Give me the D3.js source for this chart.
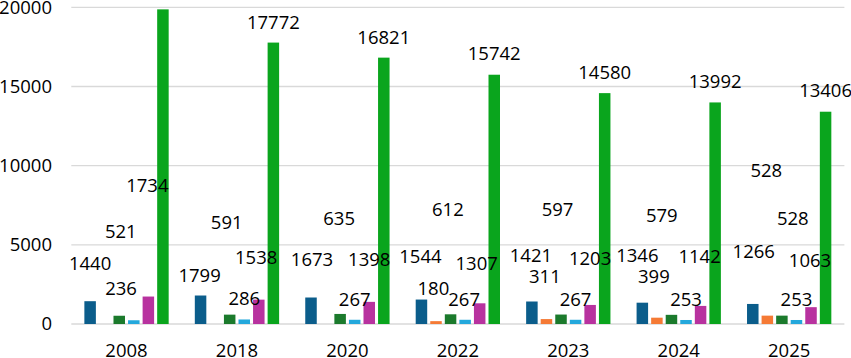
<!DOCTYPE html>
<html>
<head>
<meta charset="utf-8">
<script src="https://cdn.jsdelivr.net/npm/d3@7"></script>
<style>
  html, body { margin: 0; padding: 0; background: #fff; }
  svg { display: block; }
  text { font-family: "Open Sans", sans-serif; fill: #000; }
</style>
</head>
<body>
<svg id="chart" width="851" height="358"></svg>
<script>
// ---- data ----
const categories = ["2008", "2018", "2020", "2022", "2023", "2024", "2025"];
const seriesBlue      = [1440, 1799, 1673, 1544, 1421, 1346, 1266];
const seriesOrange    = [null, null, null, 180, 311, 399, 528];
const seriesDarkGreen = [521, 591, 635, 612, 597, 579, 528];
const seriesLightBlue = [236, 286, 267, 267, 267, 253, 253];
const seriesMagenta   = [1734, 1538, 1398, 1307, 1203, 1142, 1063];
const seriesGreen     = [19870, 17772, 16821, 15742, 14580, 13992, 13406];
const yTicks = [0, 5000, 10000, 15000, 20000];
// which data labels are shown (the 2008 green label is hidden in the original)
const greenLabelShown = [false, true, true, true, true, true, true];

// ---- style / layout ----
const seriesList = [
  { values: seriesBlue,      color: "#0b5d8b" },
  { values: seriesOrange,    color: "#f57a35" },
  { values: seriesDarkGreen, color: "#1b7a2c" },
  { values: seriesLightBlue, color: "#24a8dc" },
  { values: seriesMagenta,   color: "#b8329f" },
  { values: seriesGreen,     color: "#0aa51d" }
];
// manual nudges of the data labels (dx, dy in px) from their default outside-end place
const labelNudges = [
  [[0,-18],[-1,0],[1,-17.5],[-1,-22.6],[-1,-26],[-5,-27],[1,-32]],
  [[0,0],[0,0],[0,0],[-2.6,-12.4],[-1.6,-22.4],[-3,-20.7],[-1,-125.6]],
  [[1.6,-64.5],[-3,-72.4],[-1,-75.1],[-2.7,-85],[-3.5,-85.2],[-9.7,-79.8],[10.9,-77.3]],
  [[-12.7,-11.5],[0,-0.7],[0,0],[-1,0],[0,0],[0,0],[0,0]],
  [[-1,-91.5],[-2.6,-22.1],[0,-21.9],[-3,-20],[0,-26.1],[-1,-29.6],[-1,-26.9]],
  [[0,0],[0,0],[0,0],[0,-1],[0,-1],[0,-1],[0,-1]]
];

const svg = d3.select("#chart");
const plotLeft = 71.3, plotRight = 844.4, plotTop = 7.3, plotBottom = 324;

const x0 = d3.scaleBand().domain(categories).range([plotLeft, plotRight])
  .paddingInner(0.209).paddingOuter(0.1045);
const x1 = d3.scaleBand().domain(d3.range(seriesList.length)).range([0, x0.bandwidth()])
  .paddingInner(0.21).paddingOuter(0.105);
const y = d3.scaleLinear().domain([0, 20000]).range([plotBottom, plotTop]);

// gridlines
svg.append("g").selectAll("line").data(yTicks).join("line")
  .attr("x1", plotLeft).attr("x2", plotRight)
  .attr("y1", d => y(d)).attr("y2", d => y(d))
  .attr("stroke", "#d9d9d9").attr("stroke-width", 1.3);

// y axis labels
const yAxis = d3.axisLeft(y).tickValues(yTicks).tickSize(0).tickPadding(0).tickFormat(d3.format("d"));
const gy = svg.append("g").attr("transform", `translate(52,0)`).call(yAxis);
gy.select(".domain").remove();
gy.selectAll("text").style("font-family", "'Open Sans', sans-serif")
  .style("font-size", "18.5px").attr("fill", "#000");

// x axis labels
const xAxis = d3.axisBottom(x0).tickSize(0).tickPadding(0);
const gx = svg.append("g").attr("transform", `translate(0,${plotBottom})`).call(xAxis);
gx.select(".domain").remove();
gx.selectAll("text").style("font-family", "'Open Sans', sans-serif")
  .style("font-size", "18.5px").attr("fill", "#000")
  .attr("y", 26.5).attr("dy", "0.35em");

// bars
const bars = [];
seriesList.forEach((s, si) => {
  s.values.forEach((v, ci) => {
    if (v != null) bars.push({ si, ci, v, color: s.color });
  });
});
svg.append("g").selectAll("rect").data(bars).join("rect")
  .attr("x", d => x0(categories[d.ci]) + x1(d.si))
  .attr("width", x1.bandwidth())
  .attr("y", d => y(d.v))
  .attr("height", d => y(0) - y(d.v))
  .attr("fill", d => d.color);

// data labels
const labels = bars.filter(d => !(d.si === 5 && !greenLabelShown[d.ci]));
svg.append("g").selectAll("text").data(labels).join("text")
  .attr("x", d => x0(categories[d.ci]) + x1(d.si) + x1.bandwidth() / 2 + labelNudges[d.si][d.ci][0])
  .attr("y", d => y(d.v) - 20 + labelNudges[d.si][d.ci][1])
  .attr("dy", "0.35em")
  .attr("text-anchor", "middle")
  .style("font-size", "18.5px")
  .text(d => d.v);
</script>
</body>
</html>
